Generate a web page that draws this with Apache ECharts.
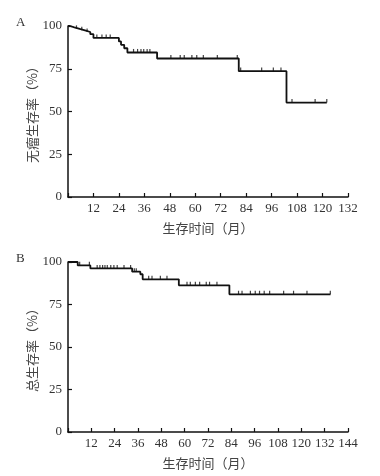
<!DOCTYPE html>
<html>
<head>
<meta charset="utf-8">
<script src="https://cdn.jsdelivr.net/npm/echarts@6/dist/echarts.min.js"></script>
<style>
html,body{margin:0;padding:0;background:#fff;}
#main{width:380px;height:476px;}
</style>
</head>
<body>
<div id="main"></div>
<script>
// A: 无瘤生存 -- step times and value after each drop
var stepTimeA = [0, 1, 3, 5.5, 8, 10.5, 12, 24, 25, 26.5, 28, 42, 80.5, 103, 122];
var stepValA = [100, 99.2, 98.3, 97.5, 96.5, 95.2, 93, 91, 89, 87, 84.5, 81, 73.6, 55.2, 55.2];
var censorA = [4, 6.5, 9, 13.6, 16, 18, 19.9, 30.9, 32.8, 34.4, 35.7, 37.3, 38.6,
  48.5, 52.9, 54.8, 58.4, 60.7, 63.8, 70.4, 79.8, 81.4, 91.3, 96.8, 100.4, 105.6, 116.5, 122];

// B: 总生存
var stepTimeB = [0, 5, 11.5, 33, 37.2, 38.4, 57, 83, 135];
var stepValB = [100, 98, 96.2, 94.3, 92.8, 89.8, 86.3, 81, 81];
var censorB = [6, 11, 15, 16.4, 17.8, 19, 20.2, 22, 23.6, 25.3, 28.8, 32.2, 34.1, 35.1,
  41.5, 43.2, 47.5, 50.9, 61.2, 62.9, 65.5, 67.7, 71.1, 72.8, 76.6,
  87.7, 89.5, 93.8, 96.3, 98.5, 100.9, 103.7, 110.9, 116, 122.9, 134.9];

var yTicks = [0, 25, 50, 75, 100];
var xMaxA = 132, xMaxB = 144;

function stepData(ts, vs){
  var out = [];
  for (var i = 0; i < ts.length; i++) out.push([ts[i], vs[i]]);
  return out;
}
// value of the curve at time t (for placing censor marks)
function valueAt(ts, vs, t){
  var v = vs[0];
  for (var i = 0; i < ts.length; i++){ if (ts[i] <= t) v = vs[i]; }
  return v;
}
function censorData(cs, ts, vs){
  return cs.map(function(t){ return [t, valueAt(ts, vs, t)]; });
}

var serif = '"Liberation Serif","DejaVu Serif",serif';
var cjk = '"Noto Sans CJK SC","Liberation Serif",sans-serif';

function xAxisCfg(idx, max){
  return {
    gridIndex: idx, type: 'value', min: 0, max: max, interval: 12,
    name: '生存时间（月）', nameLocation: 'middle', nameGap: 25,
    nameTextStyle: {fontFamily: cjk, fontSize: 13, color: '#444'},
    axisLine: {lineStyle: {color: '#111', width: 1.5}},
    axisTick: {inside: true, length: 4, lineStyle: {color: '#111', width: 1.2}},
    axisLabel: {fontFamily: serif, fontSize: 13, color: '#333', margin: 5,
      formatter: function(v){ return v === 0 ? '' : v; }},
    splitLine: {show: false}
  };
}
function yAxisCfg(idx, name){
  return {
    gridIndex: idx, type: 'value', min: yTicks[0], max: yTicks[yTicks.length - 1], interval: 25,
    name: name, nameLocation: 'middle', nameGap: 29, nameRotate: 90, nameMoveOverlap: false,
    nameTextStyle: {fontFamily: cjk, fontSize: 13, color: '#444'},
    axisLine: {show: true, lineStyle: {color: '#111', width: 1.5}},
    axisTick: {show: true, inside: true, length: 4, lineStyle: {color: '#111', width: 1.2}},
    axisLabel: {fontFamily: serif, fontSize: 13, color: '#333', margin: 6},
    splitLine: {show: false}
  };
}

var chart = echarts.init(document.getElementById('main'));
var option = {
  backgroundColor: '#fff',
  animation: false,
  title: [
    {text: 'A', left: 11, top: 11, textStyle: {fontFamily: serif, fontSize: 13, fontWeight: 'normal', color: '#333'}},
    {text: 'B', left: 11, top: 247, textStyle: {fontFamily: serif, fontSize: 13, fontWeight: 'normal', color: '#333'}}
  ],
  grid: [
    {left: 68, right: 32, top: 26, height: 171},
    {left: 68, right: 32, top: 262, height: 170}
  ],
  xAxis: [xAxisCfg(0, xMaxA), xAxisCfg(1, xMaxB)],
  yAxis: [yAxisCfg(0, '无瘤生存率（%）'), yAxisCfg(1, '总生存率（%）')],
  series: [
    {type: 'line', xAxisIndex: 0, yAxisIndex: 0, step: 'end', showSymbol: false,
      lineStyle: {color: '#111', width: 1.8}, data: stepData(stepTimeA, stepValA)},
    {type: 'scatter', xAxisIndex: 0, yAxisIndex: 0, symbol: 'rect', symbolSize: [1.2, 3.5],
      symbolOffset: [0, -1.8], itemStyle: {color: '#111'}, data: censorData(censorA, stepTimeA, stepValA)},
    {type: 'line', xAxisIndex: 1, yAxisIndex: 1, step: 'end', showSymbol: false,
      lineStyle: {color: '#111', width: 1.8}, data: stepData(stepTimeB, stepValB)},
    {type: 'scatter', xAxisIndex: 1, yAxisIndex: 1, symbol: 'rect', symbolSize: [1.2, 3.5],
      symbolOffset: [0, -1.8], itemStyle: {color: '#111'}, data: censorData(censorB, stepTimeB, stepValB)}
  ]
};
chart.setOption(option);
</script>
</body>
</html>
